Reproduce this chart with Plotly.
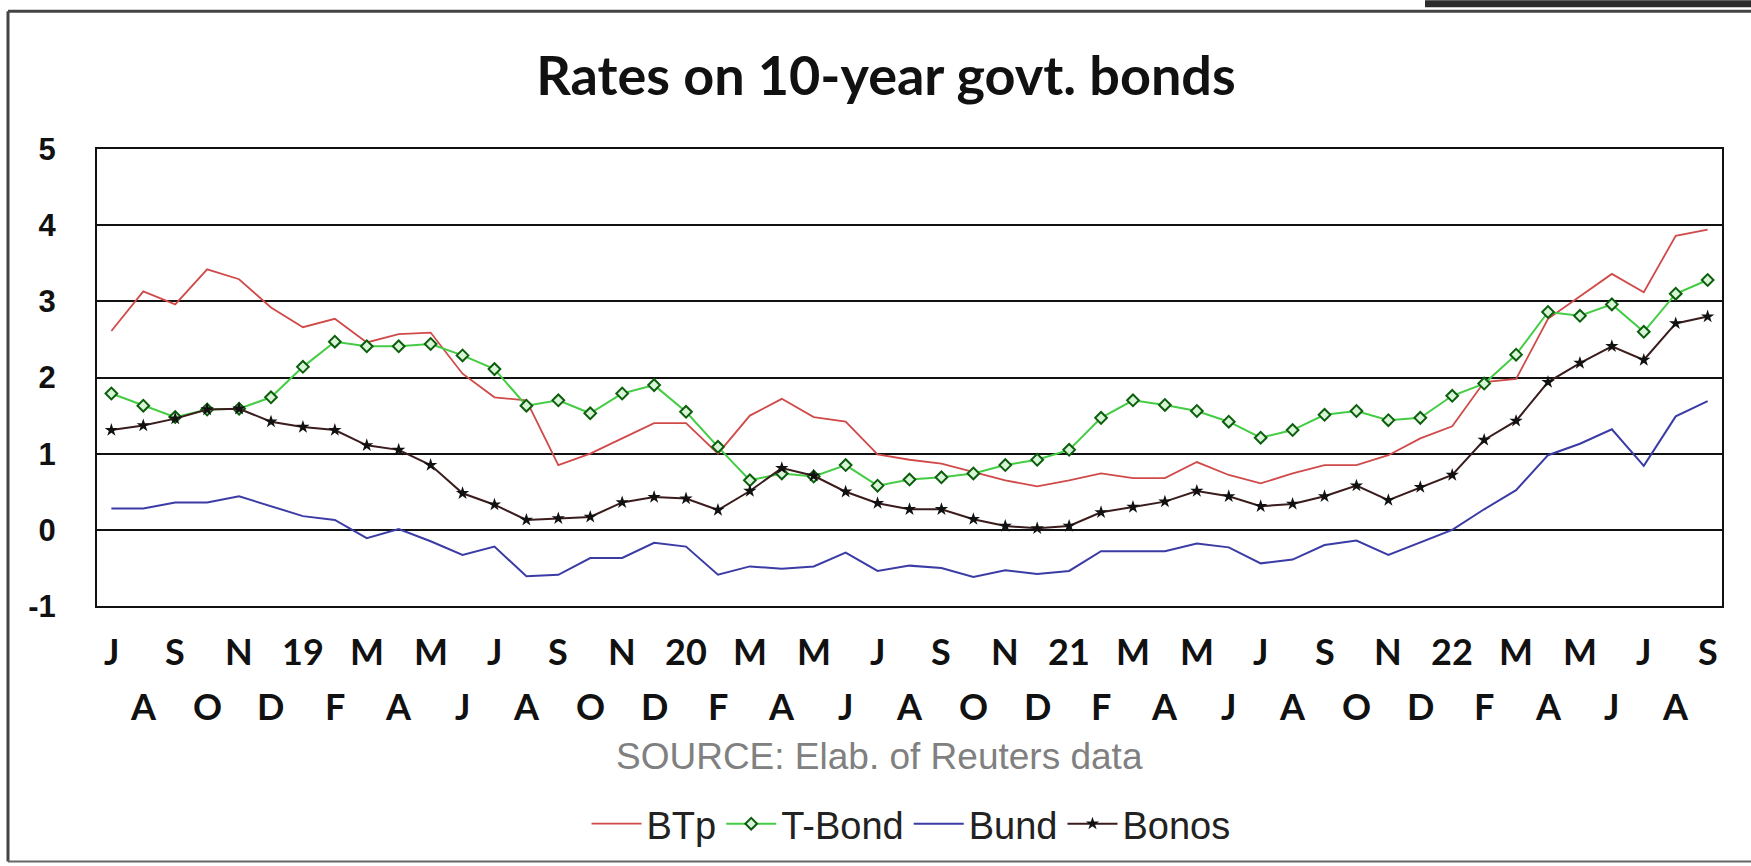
import plotly.graph_objects as go

# ---- data (monthly, Jul 2018 .. Sep 2022) ----
month_labels = ["J","A","S","O","N","D","19","F","M","A","M","J","J","A","S","O","N","D",
                "20","F","M","A","M","J","J","A","S","O","N","D","21","F","M","A","M","J",
                "J","A","S","O","N","D","22","F","M","A","M","J","J","A","S"]

btp = [2.61, 3.13, 2.96, 3.42, 3.29, 2.92, 2.66, 2.77, 2.46, 2.57, 2.59, 2.05, 1.74,
       1.70, 0.85, 1.00, 1.20, 1.40, 1.40, 1.00, 1.50, 1.72, 1.48, 1.42, 0.99, 0.92,
       0.87, 0.76, 0.65, 0.57, 0.65, 0.74, 0.68, 0.68, 0.89, 0.72, 0.61, 0.74,
       0.85, 0.85, 0.98, 1.20, 1.36, 1.94, 1.98, 2.77, 3.07, 3.36, 3.12, 3.86, 3.94]

tbond = [1.79, 1.63, 1.48, 1.58, 1.59, 1.74, 2.14, 2.47, 2.41, 2.41, 2.44, 2.29, 2.11,
         1.63, 1.70, 1.53, 1.79, 1.90, 1.55, 1.09, 0.65, 0.74, 0.70, 0.85, 0.58, 0.66,
         0.69, 0.74, 0.85, 0.92, 1.05, 1.47, 1.70, 1.64, 1.56, 1.42, 1.21, 1.31,
         1.51, 1.56, 1.44, 1.47, 1.76, 1.92, 2.30, 2.86, 2.81, 2.96, 2.60, 3.10, 3.28]

bund = [0.28, 0.28, 0.36, 0.36, 0.44, 0.31, 0.18, 0.13, -0.11, 0.01, -0.15, -0.33, -0.22,
        -0.61, -0.59, -0.37, -0.37, -0.17, -0.22, -0.59, -0.48, -0.51, -0.48, -0.30, -0.54, -0.47,
        -0.50, -0.62, -0.53, -0.58, -0.54, -0.28, -0.28, -0.28, -0.18, -0.23, -0.44, -0.39,
        -0.20, -0.14, -0.33, -0.17, 0.00, 0.27, 0.52, 0.98, 1.13, 1.32, 0.84, 1.49, 1.69]

bonos = [1.31, 1.37, 1.46, 1.58, 1.59, 1.42, 1.35, 1.31, 1.11, 1.05, 0.85, 0.48, 0.33,
         0.13, 0.15, 0.17, 0.36, 0.43, 0.41, 0.26, 0.51, 0.81, 0.71, 0.50, 0.35, 0.27,
         0.27, 0.14, 0.05, 0.02, 0.05, 0.23, 0.30, 0.37, 0.51, 0.44, 0.31, 0.34,
         0.44, 0.58, 0.39, 0.56, 0.72, 1.18, 1.43, 1.94, 2.19, 2.41, 2.23, 2.71, 2.80]

y_ticks = [-1, 0, 1, 2, 3, 4, 5]

# ---- layout geometry (pixels) ----
W, H = 1751, 866
L, R, T, B = 97, 29, 149, 259
PW, PH = W - L - R, H - T - B


def px(xp):
    return (xp - L) / PW


def py(yp):
    return (H - B - yp) / PH


x = list(range(len(month_labels)))

fig = go.Figure()
fig.add_trace(go.Scatter(x=x, y=btp, name="BTp", mode="lines",
                         line=dict(color="#d04a4a", width=1.8)))
fig.add_trace(go.Scatter(x=x, y=tbond, name="T-Bond", mode="lines+markers",
                         line=dict(color="#44cc44", width=2),
                         marker=dict(symbol="diamond", size=9, color="#d8f5d8",
                                     line=dict(color="#0b5e0b", width=2))))
fig.add_trace(go.Scatter(x=x, y=bund, name="Bund", mode="lines",
                         line=dict(color="#3b3ba6", width=2)))
fig.add_trace(go.Scatter(x=x, y=bonos, name="Bonos", mode="lines+markers",
                         line=dict(color="#3a1c1c", width=2),
                         marker=dict(symbol="star", size=10, color="#111111")))

label_font = dict(family="Lato, 'Open Sans', sans-serif", size=36, color="#111111", weight="bold")
annotations = []
for i, lab in enumerate(month_labels):
    annotations.append(dict(x=i, xref="x", y=py(652) if i % 2 == 0 else py(707), yref="paper",
                            text=lab, showarrow=False, xanchor="center", yanchor="middle",
                            font=label_font))
annotations.append(dict(x=px(879), xref="paper", y=py(758), yref="paper",
                        text="SOURCE: Elab. of Reuters data", showarrow=False,
                        xanchor="center", yanchor="middle",
                        font=dict(family="'Liberation Sans', Arial, sans-serif",
                                  size=37, color="#808080")))

shapes = [
    # outer frame
    dict(type="line", xref="paper", yref="paper", x0=px(8), x1=px(8), y0=py(11), y1=py(863),
         line=dict(color="#444444", width=3)),
    dict(type="line", xref="paper", yref="paper", x0=px(8), x1=px(1760), y0=py(11), y1=py(11),
         line=dict(color="#444444", width=3)),
    dict(type="line", xref="paper", yref="paper", x0=px(8), x1=px(1760), y0=py(863), y1=py(863),
         line=dict(color="#666666", width=2)),
    # dark bar at top right
    dict(type="rect", xref="paper", yref="paper", x0=px(1425), x1=px(1760), y0=py(0), y1=py(7),
         line=dict(width=0), fillcolor="#2b2b2b"),
]

fig.update_layout(
    width=W, height=H,
    margin=dict(l=L, r=R, t=T, b=B),
    paper_bgcolor="white", plot_bgcolor="white",
    title=dict(text="Rates on 10-year govt. bonds", x=886 / W, xref="container", xanchor="center",
               y=1 - 76 / H, yref="container", yanchor="middle",
               font=dict(family="Lato, 'Open Sans', sans-serif", size=54, color="#111111",
                         weight="bold")),
    xaxis=dict(range=[-0.45, 50.45], showticklabels=False, showgrid=False, zeroline=False,
               showline=True, mirror=True, linecolor="#111111", linewidth=2, ticks=""),
    yaxis=dict(range=[-1, 5], tickvals=y_ticks, ticktext=[str(v) for v in y_ticks],
               showgrid=True, gridcolor="#111111", gridwidth=2, zeroline=True,
               zerolinecolor="#111111", zerolinewidth=2,
               showline=True, mirror=True, linecolor="#111111", linewidth=2, ticks="",
               ticklabelstandoff=33,
               tickfont=dict(family="'Liberation Sans', Arial, sans-serif",
                             size=31, color="#111111", weight="bold")),
    legend=dict(orientation="h", x=px(911), xanchor="center", y=py(824), yanchor="middle",
                font=dict(family="'Liberation Sans', Arial, sans-serif",
                          size=38, color="#222222"),
                bgcolor="rgba(0,0,0,0)", itemwidth=50),
    annotations=annotations,
    shapes=shapes,
    showlegend=True,
)

fig.write_html("out.html")
